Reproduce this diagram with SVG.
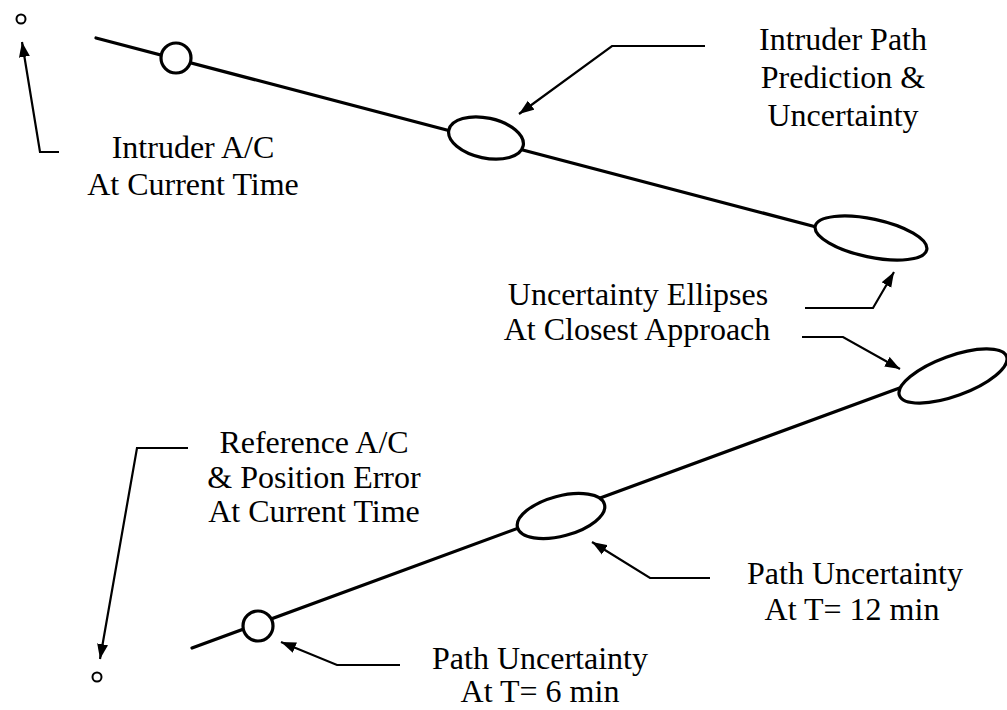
<svg xmlns="http://www.w3.org/2000/svg" width="1007" height="710" viewBox="0 0 1007 710">
  <style>
    .path { stroke: #000; stroke-width: 3.2; fill: none; stroke-linecap: round; }
    .zone { stroke: #000; stroke-width: 3.2; fill: #fff; }
    .dot { stroke: #000; stroke-width: 2; fill: #fff; }
    .lead { stroke: #000; stroke-width: 2.2; fill: none; stroke-linejoin: miter; }
    .lbl { font-family: "Liberation Serif", "Times New Roman", serif; font-size: 32px; fill: #000; text-anchor: middle; }
  </style>
  <defs>
    <marker id="head" markerUnits="userSpaceOnUse" markerWidth="16" markerHeight="12" viewBox="0 -6 16 12" refX="15" refY="0" orient="auto">
      <path d="M0,-5.5 L15,0 L0,5.5 z" fill="#000"/>
    </marker>
  </defs>

  <!-- flight tracks -->
  <g id="tracks">
    <line class="path" x1="96" y1="38" x2="820" y2="228"/>
    <line class="path" x1="192" y1="648" x2="905" y2="386"/>
  </g>

  <!-- intruder aircraft and its uncertainty regions -->
  <g id="intruder-now">
    <circle class="dot" cx="21" cy="19" r="4.5"/>
  </g>
  <g id="intruder-start">
    <circle class="zone" cx="176" cy="58" r="15"/>
  </g>
  <g id="intruder-mid">
    <ellipse class="zone" cx="486" cy="138" rx="38" ry="20" transform="rotate(12 486 138)"/>
  </g>
  <g id="intruder-cpa">
    <ellipse class="zone" cx="871" cy="238" rx="57" ry="19" transform="rotate(12 871 238)"/>
  </g>

  <!-- reference aircraft and its uncertainty regions -->
  <g id="reference-now">
    <circle class="dot" cx="97" cy="677" r="4.5"/>
  </g>
  <g id="reference-6min">
    <circle class="zone" cx="258" cy="626" r="15"/>
  </g>
  <g id="reference-12min">
    <ellipse class="zone" cx="561" cy="516" rx="45" ry="20" transform="rotate(-15 561 516)"/>
  </g>
  <g id="reference-cpa">
    <ellipse class="zone" cx="953" cy="376" rx="57" ry="20" transform="rotate(-20 953 376)"/>
  </g>

  <!-- callout leaders -->
  <g id="connectors">
    <polyline class="lead" points="59,152 40,152 22,42" marker-end="url(#head)"/>
    <polyline class="lead" points="705,46 612,46 519,114" marker-end="url(#head)"/>
    <polyline class="lead" points="805,308 873,308 894,272" marker-end="url(#head)"/>
    <polyline class="lead" points="802,337 843,337 900,369" marker-end="url(#head)"/>
    <polyline class="lead" points="188,448 137,448 100,659" marker-end="url(#head)"/>
    <polyline class="lead" points="400,665 337,665 281,642" marker-end="url(#head)"/>
    <polyline class="lead" points="710,578 650,578 592,542" marker-end="url(#head)"/>
  </g>

  <!-- labels -->
  <g id="label-intruder">
    <text class="lbl" x="193" y="158">Intruder A/C</text>
    <text class="lbl" x="193" y="195">At Current Time</text>
  </g>
  <g id="label-prediction">
    <text class="lbl" x="843" y="50">Intruder Path</text>
    <text class="lbl" x="843" y="88">Prediction &amp;</text>
    <text class="lbl" x="843" y="126">Uncertainty</text>
  </g>
  <g id="label-cpa">
    <text class="lbl" x="638" y="305">Uncertainty Ellipses</text>
    <text class="lbl" x="637" y="340">At Closest Approach</text>
  </g>
  <g id="label-reference">
    <text class="lbl" x="314" y="453">Reference A/C</text>
    <text class="lbl" x="314" y="488">&amp; Position Error</text>
    <text class="lbl" x="314" y="522">At Current Time</text>
  </g>
  <g id="label-12min">
    <text class="lbl" x="855" y="584">Path Uncertainty</text>
    <text class="lbl" x="852" y="620">At T= 12 min</text>
  </g>
  <g id="label-6min">
    <text class="lbl" x="540" y="669">Path Uncertainty</text>
    <text class="lbl" x="540" y="702">At T= 6 min</text>
  </g>
</svg>
